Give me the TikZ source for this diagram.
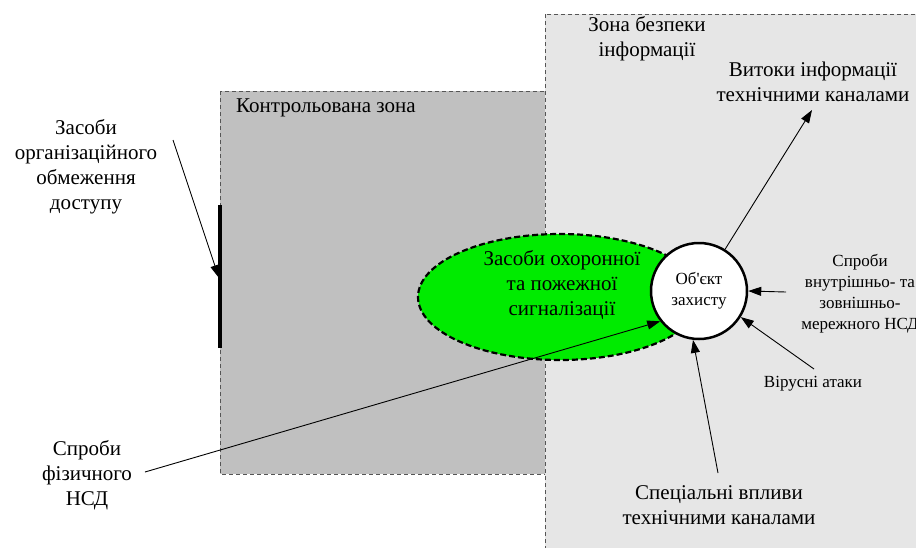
\documentclass[tikz,border=0pt]{standalone}
\usepackage{fontspec}
\setmainfont{Liberation Serif}
\newfontfamily\plainserif{Liberation Serif}
\usepackage{tikz}
\usetikzlibrary{arrows.meta,shapes.geometric}
\definecolor{zonedark}{RGB}{192,192,192}
\definecolor{zonelight}{RGB}{230,230,230}
\definecolor{zoneedge}{RGB}{85,85,85}
\definecolor{alarmgreen}{RGB}{0,235,0}

\tikzset{
  zone/.style={draw=zoneedge, line width=0.9pt, dash pattern=on 4pt off 3pt},
  lbl/.style={align=center, inner sep=0pt, font=\fontsize{21}{25}\selectfont},
  lblsmall/.style={align=center, inner sep=0pt, font=\fontsize{17}{21}\selectfont},
  arr/.style={line width=0.9pt, -{Triangle[length=13pt,width=9pt]}}
}

\begin{document}
\begin{tikzpicture}[x=1pt,y=-1pt]
\useasboundingbox (0,0) rectangle (916,547);
% zones
\fill[white] (0,0) rectangle (916,547);
\filldraw[zone, fill=zonedark] (220,91) rectangle (545,474);
\filldraw[zone, fill=zonelight] (545,14) rectangle (935,565);
\node[lbl, anchor=west] (ctrl) at (236,108) {Контрольована зона};
\node[lbl] (safe) at (647,39) {Зона безпеки\\інформації};

% barrier of organisational means
\draw[line width=4pt] (220,205) -- (220,348);

% alarm means and protected object
\node[ellipse, draw, fill=alarmgreen, line width=2.2pt, dash pattern=on 6pt off 3pt,
  minimum width=284pt, minimum height=126pt] (alarm) at (560,297) {};
\node[lbl] at (562,285) {Засоби охоронної\\та пожежної\\сигналізації};
\node[circle, draw, fill=white, line width=2.5pt, minimum size=96pt,
  lblsmall] (obj) at (699,291) {Об{\plainserif '}єкт\\захисту};

% labels
\node[lbl] (org) at (86,167) {Засоби\\організаційного\\обмеження\\доступу};
\node[lbl] (phys) at (87,475) {Спроби\\фізичного\\НСД};
\node[lbl] (leak) at (813,82) {Витоки інформації\\технічними каналами};
\node[lbl] (spec) at (719,505) {Спеціальні впливи\\технічними каналами};
\node[lblsmall] (net) at (860,294) {Спроби\\внутрішньо- та\\зовнішньо-\\мережного НСД};
\node[lblsmall] (virus) at (813,384) {Вірусні атаки};

\coordinate (orgtail) at (173,140);
\coordinate (orgtip) at (219,278);
\coordinate (leaktip) at (812,110);
\coordinate (physttail) at (145,472);
\coordinate (nettail) at (786,292);
\coordinate (virustail) at (814,369);
\coordinate (spectail) at (718,473);

% connectors
\draw[arr] (orgtail) -- (orgtip);
\draw[arr] (obj.58) -- (leaktip);
\draw[arr] (physttail) -- (obj.218);
\draw[arr] (nettail) -- (obj.east);
\draw[arr] (virustail) -- (obj.-32);
\draw[arr] (spectail) -- (obj.-97);
\end{tikzpicture}
\end{document}
